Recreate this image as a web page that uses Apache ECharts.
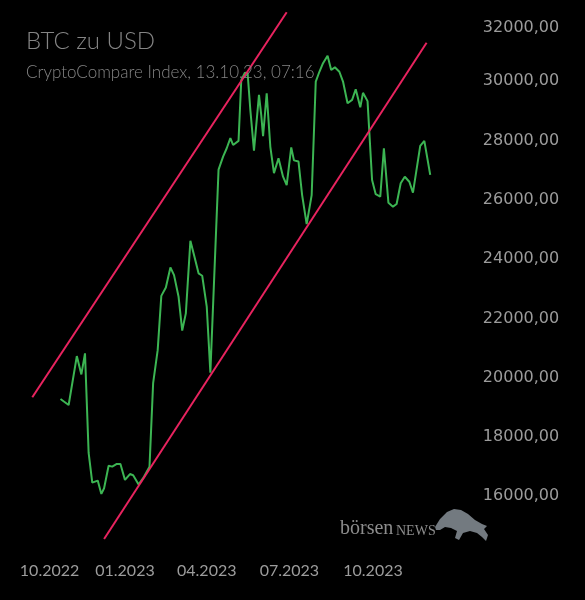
<!DOCTYPE html>
<html>
<head>
<meta charset="utf-8">
<script src="https://cdn.jsdelivr.net/npm/echarts@6/dist/echarts.min.js"></script>
<style>
html,body{margin:0;padding:0;background:#000;}
#chart{width:585px;height:600px;}
</style>
</head>
<body>
<div id="chart"></div>
<script>
// x values: days relative to 01.01.2023
const days = [-71,-62,-53,-48,-44,-40,-36,-30,-26,-23,-18,-14,-9,-5,0,5.5,9,15,20,27,
  31,36,40,45,50,54,59,63,67,72,76,81,85,90,94,103,108,112,116,119,
  125,128,132,135,138,142,147.5,150,152,156,160,164,169,174,178,183,186,191,195,200,
  205.5,210,214,218,223,227,231,236,240,245,250,254,259,262,267,272,276,281,285,290,
  295,299,303.5,308,313,317,325,329.5,336];
const prices = [19180,18980,20630,20010,20720,17360,16360,16430,15980,16170,
  16930,16900,16990,16990,16450,16650,16610,16300,16510,16900,
  19720,20830,22660,22940,23620,23360,22630,21490,22070,24520,
  24040,23420,23340,22300,20070,26920,27360,27640,27980,27750,
  27890,29940,30190,30170,28930,27560,29440,28760,28050,29490,
  27690,26800,27300,26680,26400,27670,27230,27190,26060,25080,
  26060,29890,30220,30510,30760,30280,30370,30220,29890,29160,
  29270,29630,29020,29510,29230,26570,26090,26010,27640,25800,
  25670,25760,26460,26680,26510,26140,27720,27890,26740];
const upperChannelDays = [-102, 178];
const upperChannelPrices = [19240, 32230];
const lowerChannelDays = [-23, 332];
const lowerChannelPrices = [14460, 31200];
const xTickDays = [-83, 0, 90, 181, 273];
const xTickLabels = ['10.2022','01.2023','04.2023','07.2023','10.2023'];

const zip = (a, b) => a.map((v, i) => [v, b[i]]);
const chart = echarts.init(document.getElementById('chart'), null, {renderer:'canvas'});
const labelColor = '#9c9c9c';
chart.setOption({
  backgroundColor: '#000',
  animation: false,
  title: {
    text: 'BTC zu USD',
    subtext: 'CryptoCompare Index, 13.10.23, 07:16',
    left: 21, top: 24, itemGap: 11,
    textStyle: {color: '#858585', fontFamily: 'Lato', fontWeight: 300, fontSize: 24},
    subtextStyle: {color: '#858585', fontFamily: 'Lato', fontWeight: 300, fontSize: 17}
  },
  grid: {left: 20.5, right: 114.8, top: 19, bottom: 47.4},
  xAxis: {
    type: 'value', min: -115, max: 380,
    axisLine: {show: false}, axisTick: {show: false}, splitLine: {show: false},
    axisLabel: {
      customValues: xTickDays,
      formatter: v => { const i = xTickDays.indexOf(v); return i >= 0 ? xTickLabels[i] : ''; },
      color: labelColor, fontFamily: 'Lato', fontSize: 16, margin: 10, hideOverlap: false
    }
  },
  yAxis: {
    type: 'value', position: 'right', min: 14000, max: 32000, interval: 2000,
    axisLine: {show: false}, axisTick: {show: false}, splitLine: {show: false},
    axisLabel: {
      formatter: v => v === 14000 ? '' : '\n' + v.toFixed(2).replace('.', ','),
      color: labelColor, fontFamily: 'DejaVu Sans', fontSize: 16, lineHeight: 6,
      align: 'right', margin: 89, verticalAlignMaxLabel: 'top'
    }
  },
  series: [
    {type: 'line', data: zip(days, prices), symbol: 'none', clip: false,
     lineStyle: {color: '#3cb553', width: 2}, itemStyle: {color: '#3cb553'}, z: 2},
    {type: 'line', data: zip(upperChannelDays, upperChannelPrices), symbol: 'none', clip: false,
     lineStyle: {color: '#e8235f', width: 2}, z: 3},
    {type: 'line', data: zip(lowerChannelDays, lowerChannelPrices), symbol: 'none', clip: false,
     lineStyle: {color: '#e8235f', width: 2}, z: 3}
  ],
  graphic: [
    {type: 'text', left: 340, top: 519, z: 10,
     style: {text: 'börsen', fill: '#8c8c8c', font: '20px "Liberation Serif"'}},
    {type: 'text', left: 396, top: 524, z: 10,
     style: {text: 'NEWS', fill: '#8c8c8c', font: '14px "Liberation Serif"'}},
    {type: 'polygon', z: 10,
     shape: {points: [[435,527],[440,519],[447,512],[454,509],[461,510],[468,514],[475,520],[482,524],[487,526],[484,529],[488,535],[486,541],[482,537],[477,533],[470,531],[463,533],[459,540],[455,538],[457,531],[451,528],[445,527],[440,530],[436,530]]},
     style: {fill: '#737a80'}}
  ]
});
</script>
</body>
</html>
